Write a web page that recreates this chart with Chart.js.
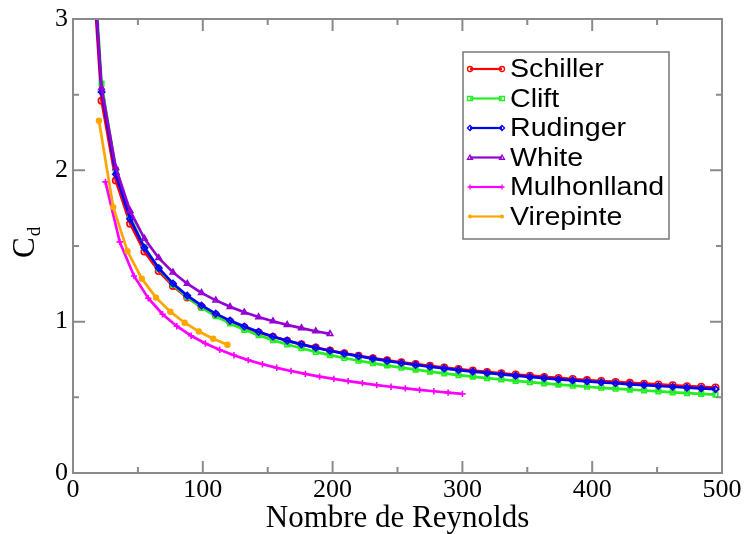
<!DOCTYPE html>
<html><head><meta charset="utf-8">
<script src="https://cdn.jsdelivr.net/npm/chart.js"></script>
<style>html,body{margin:0;padding:0;background:#fff}canvas{display:block}</style>
</head><body>
<canvas id="c" width="744" height="534"></canvas>
<script>
const seriesNames = ['Schiller','Clift','Rudinger','White','Mulhonlland','Virepinte'];
const seriesColors = ['#ff0000','#22ee22','#0000ff','#9400d3','#ff00ff','#ffa500'];
const seriesMarkers = ['circle','rect','rectRot','triangle','cross','circle'];

const reynoldsMain = [11,22,33,44,55,66,77,88,99,110,121,132,143,154,165,176,187,198,209,220,231,242,253,264,275,286,297,308,319,330,341,352,363,374,385,396,407,418,429,440,451,462,473,484,495];
const schiller = [3.881,2.459,1.932,1.647,1.463,1.334,1.236,1.159,1.097,1.045,1.001,0.963,0.929,0.900,0.874,0.850,0.829,0.809,0.791,0.775,0.759,0.745,0.732,0.720,0.708,0.697,0.687,0.677,0.668,0.659,0.651,0.643,0.635,0.628,0.621,0.614,0.608,0.602,0.596,0.590,0.585,0.580,0.574,0.570,0.565];
const clift = [4.096,2.573,2.003,1.693,1.493,1.351,1.245,1.161,1.093,1.036,0.988,0.946,0.910,0.878,0.849,0.824,0.800,0.779,0.760,0.742,0.726,0.710,0.696,0.683,0.670,0.658,0.647,0.637,0.627,0.618,0.609,0.600,0.592,0.584,0.577,0.570,0.563,0.557,0.551,0.545,0.539,0.533,0.528,0.523,0.518];
const rudinger = [3.980,2.518,1.974,1.679,1.488,1.354,1.252,1.172,1.107,1.053,1.007,0.968,0.933,0.902,0.875,0.850,0.828,0.808,0.789,0.772,0.756,0.741,0.727,0.715,0.702,0.691,0.680,0.670,0.661,0.652,0.643,0.635,0.627,0.619,0.612,0.605,0.599,0.593,0.586,0.581,0.575,0.570,0.564,0.559,0.554];

const reynoldsWhite = [11,22,33,44,55,66,77,88,99,110,121,132,143,154,165,176,187,198];
const white = [3.972,2.545,2.017,1.732,1.549,1.421,1.326,1.251,1.190,1.141,1.098,1.062,1.031,1.003,0.979,0.957,0.937,0.919];

const reynoldsMul = [25,36,47,58,69,80,91,102,113,124,135,146,157,168,179,190,201,212,223,234,245,256,267,278,289,300];
const mulhonlland = [1.924,1.527,1.302,1.155,1.049,0.970,0.907,0.856,0.814,0.778,0.746,0.719,0.695,0.674,0.655,0.637,0.622,0.607,0.594,0.581,0.570,0.559,0.549,0.540,0.531,0.523];

const reynoldsVir = [20,31,42,53,64,75,86,97,108,119];
const virepinte = [2.328,1.757,1.465,1.284,1.159,1.066,0.993,0.935,0.887,0.847];

const xTicks = [0,100,200,300,400,500];
const yTicks = [0,1,2,3];
const xTitle = 'Nombre de Reynolds';
const yTitleMain = 'C';
const yTitleSub = 'd';

const xsList = [reynoldsMain, reynoldsMain, reynoldsMain, reynoldsWhite, reynoldsMul, reynoldsVir];
const ysList = [schiller, clift, rudinger, white, mulhonlland, virepinte];
const drawOrder = [5,4,3,2,1,0];

const datasets = seriesNames.map((name, i) => ({
  label: name,
  data: xsList[i].map((x, j) => ({x: x, y: ysList[i][j]})),
  borderColor: seriesColors[i],
  backgroundColor: seriesColors[i],
  pointBorderColor: seriesColors[i],
  pointBackgroundColor: i === 5 ? seriesColors[i] : 'rgba(0,0,0,0)',
  pointStyle: seriesMarkers[i],
  pointRadius: i === 5 ? 2.4 : 3.2,
  pointBorderWidth: 1.6,
  borderWidth: 2.7,
  tension: 0,
  fill: false,
  order: drawOrder[i]
}));

const SERIF = '"Liberation Serif", "Times New Roman", serif';
const SANS = '"Liberation Sans", Arial, sans-serif';

function drawMarker(ctx, style, x, y, r, color) {
  ctx.save();
  ctx.strokeStyle = color; ctx.fillStyle = color; ctx.lineWidth = 1.3;
  ctx.beginPath();
  if (style === 'circle') { ctx.arc(x, y, r, 0, Math.PI*2); }
  else if (style === 'rect') { ctx.rect(x-r, y-r*0.8, 2*r, 1.6*r); }
  else if (style === 'rectRot') { ctx.moveTo(x, y-r); ctx.lineTo(x+r, y); ctx.lineTo(x, y+r); ctx.lineTo(x-r, y); ctx.closePath(); }
  else if (style === 'triangle') { ctx.moveTo(x, y-r); ctx.lineTo(x+r, y+r*0.7); ctx.lineTo(x-r, y+r*0.7); ctx.closePath(); }
  else if (style === 'cross') { ctx.moveTo(x-r, y); ctx.lineTo(x+r, y); ctx.moveTo(x, y-r); ctx.lineTo(x, y+r); }
  ctx.stroke();
  ctx.restore();
}

const framePlugin = {
  id: 'frame',
  afterDraw(chart) {
    const ctx = chart.ctx;
    const a = chart.chartArea;
    const xs = chart.scales.x, ys = chart.scales.y;
    ctx.save();
    ctx.strokeStyle = '#8a8a8a';
    ctx.lineWidth = 2;
    ctx.strokeRect(a.left, a.top, a.right - a.left, a.bottom - a.top);
    ctx.beginPath();
    for (let v = 0; v <= 500; v += 50) {
      const px = xs.getPixelForValue(v);
      const len = (v % 100 === 0) ? 12 : 6;
      ctx.moveTo(px, a.bottom); ctx.lineTo(px, a.bottom - len);
      ctx.moveTo(px, a.top); ctx.lineTo(px, a.top + len);
    }
    for (let v = 0; v <= 3.0001; v += 0.5) {
      const py = ys.getPixelForValue(v);
      const len = (Math.abs(v - Math.round(v)) < 1e-6) ? 12 : 6;
      ctx.moveTo(a.left, py); ctx.lineTo(a.left + len, py);
      ctx.moveTo(a.right, py); ctx.lineTo(a.right - len, py);
    }
    ctx.stroke();

    // y title with subscript
    ctx.fillStyle = '#000';
    ctx.translate(34, 258);
    ctx.rotate(-Math.PI/2);
    ctx.textAlign = 'left';
    ctx.textBaseline = 'alphabetic';
    ctx.font = '31px ' + SERIF;
    ctx.fillText(yTitleMain, 0, 0);
    const w = ctx.measureText(yTitleMain).width;
    ctx.font = '19px ' + SERIF;
    ctx.fillText(yTitleSub, w + 1, 6);
    ctx.restore();

    // legend
    ctx.save();
    const lx = 463, ly = 52, lw = 206, lh = 187;
    ctx.fillStyle = '#fff';
    ctx.fillRect(lx, ly, lw, lh);
    ctx.strokeStyle = '#777';
    ctx.lineWidth = 1.5;
    ctx.strokeRect(lx, ly, lw, lh);
    chart.data.datasets.forEach((ds, i) => {
      const y = 69 + i * 29.5;
      ctx.strokeStyle = ds.borderColor;
      ctx.lineWidth = 2.2;
      ctx.beginPath(); ctx.moveTo(470, y); ctx.lineTo(502, y); ctx.stroke();
      const st = ds.pointStyle;
      if (i === 5) {
        ctx.fillStyle = ds.borderColor;
        ctx.beginPath(); ctx.arc(470, y, 2, 0, Math.PI*2); ctx.arc(502, y, 2, 0, Math.PI*2); ctx.fill();
      } else {
        drawMarker(ctx, st, 470, y, 2.5, ds.borderColor);
        drawMarker(ctx, st, 502, y, 2.5, ds.borderColor);
      }
      ctx.save();
      ctx.translate(510, y + 1);
      ctx.scale(1.1, 1);
      ctx.fillStyle = '#000';
      ctx.font = '26px ' + SANS;
      ctx.textAlign = 'left';
      ctx.textBaseline = 'middle';
      ctx.fillText(ds.label, 0, 0);
      ctx.restore();
    });
    ctx.restore();
  }
};

new Chart(document.getElementById('c'), {
  type: 'line',
  data: { datasets: datasets },
  options: {
    responsive: false,
    animation: false,
    devicePixelRatio: 1,
    layout: { padding: { top: 19, right: 22, left: 0, bottom: 0 } },
    plugins: { legend: { display: false }, tooltip: { enabled: false } },
    scales: {
      x: {
        type: 'linear', min: 0, max: 500,
        afterBuildTicks(s) { s.ticks = xTicks.map(v => ({value: v})); },
        afterFit(s) { s.height = 61; s.paddingLeft = 0; s.paddingRight = 0; },
        grid: { display: false, drawTicks: false },
        border: { display: false },
        ticks: { color: '#000', padding: 4, font: { family: SERIF, size: 26, lineHeight: 1 }, maxRotation: 0 },
        title: { display: true, text: xTitle, color: '#000', font: { family: SERIF, size: 31, lineHeight: 1 }, padding: { top: 0, bottom: 0 } }
      },
      y: {
        type: 'linear', min: 0, max: 3,
        afterBuildTicks(s) { s.ticks = yTicks.map(v => ({value: v})); },
        afterFit(s) { s.width = 73; s.paddingTop = 0; s.paddingBottom = 0; },
        grid: { display: false, drawTicks: false },
        border: { display: false },
        ticks: { color: '#000', padding: 5, font: { family: SERIF, size: 26, lineHeight: 1 } }
      }
    }
  },
  plugins: [framePlugin]
});
</script>
</body></html>
